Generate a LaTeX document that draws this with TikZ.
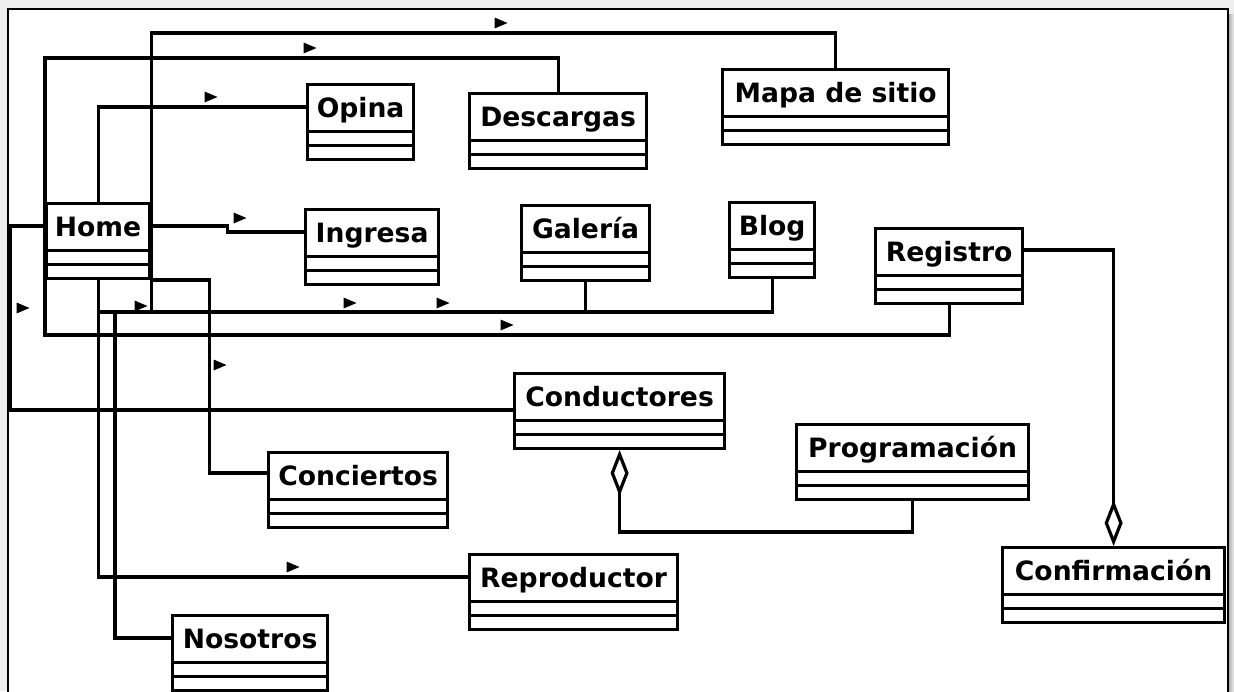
\documentclass[tikz,border=0pt]{standalone}
\usepackage{fontspec}
\newfontfamily\umlfont{DejaVu Sans}
\usetikzlibrary{positioning,arrows.meta,shapes.multipart,calc}
\newcommand{\namestrut}{\rule[-6pt]{0pt}{21pt}}
\definecolor{pagegray}{RGB}{238,238,238}
\tikzset{
    umlclass/.style={
        rectangle split, rectangle split parts=3,
        draw, line width=1.6pt, fill=white,
        inner xsep=4pt, inner ysep=0.5pt,
        rectangle split empty part height=0.5pt,
        rectangle split empty part depth=0pt,
        anchor=north west,
        font=\umlfont\bfseries\fontsize{13.3pt}{15pt}\selectfont,
        execute at begin node=\namestrut
    },
    link/.style={line width=1.6pt},
    aggtip/.tip={Diamond[open, length=23pt, width=9pt]},
    navmark/.pic={\fill (-6.5,-5.5) -- (6.5,0) -- (-6.5,5.5) -- cycle;}
}
\begin{document}
\begin{tikzpicture}[x=0.5pt, y=-0.5pt]

        \useasboundingbox (0,0) rectangle (1234,691);
        \fill[pagegray] (0,0) rectangle (1234,691);
        \shade[left color=gray!70, right color=pagegray] (1228,14) rectangle (1234,691);
        \draw[line width=1pt, fill=white] (8,9) rectangle (1228,700);

        % Classes
        \node[umlclass, minimum width=51.5pt] (home) at (45,202) {Home};
        \node[umlclass, minimum width=53pt] (opina) at (306,83) {Opina};
        \node[umlclass, minimum width=66.5pt] (ingresa) at (304,208) {Ingresa};
        \node[umlclass, minimum width=88.5pt] (descargas) at (468,92) {Descargas};
        \node[umlclass, minimum width=113pt] (mapa) at (721,68) {Mapa de sitio};
        \node[umlclass, minimum width=64pt] (galeria) at (520,204) {Galería};
        \node[umlclass, minimum width=42.5pt] (blog) at (728,201) {Blog};
        \node[umlclass, minimum width=73.5pt] (registro) at (874,227) {Registro};
        \node[umlclass, minimum width=105pt] (conductores) at (513,372) {Conductores};
        \node[umlclass, minimum width=116pt] (programacion) at (795,423) {Programación};
        \node[umlclass, minimum width=111pt] (confirmacion) at (1001,546) {Confirmación};
        \node[umlclass, minimum width=89.5pt] (conciertos) at (267,451) {Conciertos};
        \node[umlclass, minimum width=104pt] (reproductor) at (468,553) {Reproductor};
        \node[umlclass, minimum width=77.5pt] (nosotros) at (171,614) {Nosotros};

        % Rows and columns of the bends
        \coordinate (rowA) at (0,33);
        \coordinate (rowB) at (0,58);
        \coordinate (hubrow) at (0,312);
        \coordinate (rowC) at (0,335);
        \coordinate (rowP) at (0,532);
        \coordinate (colF) at (10,0);
        \coordinate (colN) at (115,0);

        % Ends on the name parts
        \coordinate (homeE) at ([yshift=-12pt]home.north east);
        \coordinate (homeW) at ([yshift=-12pt]home.north west);
        \coordinate (opinaW) at ([yshift=-12pt]opina.north west);
        \coordinate (ingW) at ([yshift=-12pt]ingresa.north west);
        \coordinate (condW) at ([yshift=-19pt]conductores.north west);
        \coordinate (concW) at ([yshift=-11pt]conciertos.north west);
        \coordinate (reproW) at ([yshift=-12pt]reproductor.north west);
        \coordinate (nosW) at ([yshift=-12pt]nosotros.north west);
        \coordinate (regE) at ([yshift=-11.5pt]registro.north east);

        % Links
        \draw[link] (mapa.north) |- (rowA -| home.east) -- (home.east |- hubrow);
        \draw[link] (descargas.north) |- (rowB -| home.west) -- (home.west |- rowC) -| (registro.south);
        \draw[link] (home.north) |- (opinaW);
        \draw[link] (homeE) -| ($(homeE)!0.5!(ingW)$) |- (ingW);
        \draw[link] (homeW) -| (colF |- condW) -- (condW);
        \draw[link] (home.south east) -| ($(home.south east)!0.5!(concW)$) |- (concW);
        \draw[link] (home.south) |- (reproW);
        \draw[link] (blog.south) |- (home.south |- hubrow);
        \draw[link] (galeria.south) -- (galeria.south |- hubrow);
        \draw[link] (colN |- hubrow) |- (nosW);

        % Aggregations
        \draw[link, -aggtip] (regE) -| (confirmacion.north);
        \draw[link, aggtip-] (conductores.south) |- (programacion.south |- rowP) -- (programacion.south);

        % Direction marks
        \pic at (501,23) {navmark};
        \pic at (310,48) {navmark};
        \pic at (211,97) {navmark};
        \pic at (240,218) {navmark};
        \pic at (23,308) {navmark};
        \pic at (141,306) {navmark};
        \pic at (350,303) {navmark};
        \pic at (443,303) {navmark};
        \pic at (507,325) {navmark};
        \pic at (220,365) {navmark};
        \pic at (293,567) {navmark};

    \end{tikzpicture}
\end{document}
